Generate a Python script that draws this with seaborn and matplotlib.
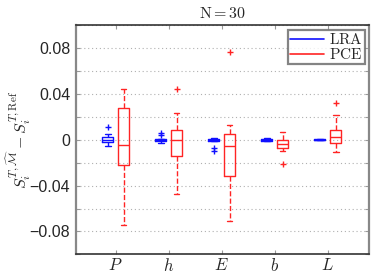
import numpy as np
import pandas as pd
import matplotlib
matplotlib.use("Agg")
import matplotlib.pyplot as plt
import seaborn as sns
from matplotlib.lines import Line2D
from matplotlib.ticker import MultipleLocator, FuncFormatter

# ---- data (sample values reconstructed from the box plots) ----
variables = ["P", "h", "E", "b", "L"]
methods = ["LRA", "PCE"]

lra_P = [-0.0055, -0.003, -0.002, -0.001, 0.0, 0.001, 0.0026, 0.0046, 0.011]
lra_h = [-0.003, -0.002, -0.001, -0.0005, 0.0, 0.0005, 0.001, 0.0045, 0.0055]
lra_E = [-0.010, -0.007, -0.0015, -0.001, 0.0, 0.0005, 0.001, 0.0012, 0.0015]
lra_b = [-0.0012, -0.001, -0.0008, -0.0004, 0.0, 0.0004, 0.0008, 0.001, 0.0012]
lra_L = [-0.0006, -0.0005, -0.0004, -0.0002, 0.0, 0.0002, 0.0004, 0.0005, 0.0006]

pce_P = [-0.0746, -0.04, -0.0218, -0.012, -0.005, 0.01, 0.0278, 0.035, 0.0438]
pce_h = [-0.047, -0.025, -0.0143, -0.006, 0.0, 0.004, 0.0087, 0.0235, 0.0445]
pce_E = [-0.0708, -0.05, -0.032, -0.015, -0.0058, 0.0, 0.0052, 0.013, 0.0762]
pce_b = [-0.021, -0.0099, -0.0076, -0.005, -0.0035, -0.002, -0.0006, 0.0066, 0.0066]
pce_L = [-0.011, -0.006, -0.0032, 0.0, 0.002, 0.005, 0.0084, 0.0214, 0.0316]

lra_vals = [lra_P, lra_h, lra_E, lra_b, lra_L]
pce_vals = [pce_P, pce_h, pce_E, pce_b, pce_L]

rows = []
for v, a, b in zip(variables, lra_vals, pce_vals):
    rows += [(v, "LRA", x) for x in a]
    rows += [(v, "PCE", x) for x in b]
df = pd.DataFrame(rows, columns=["var", "method", "value"])

blue = "#1010ff"
red = "#ff2424"

sns.set_style("white")
plt.rcParams["mathtext.fontset"] = "cm"
plt.rcParams["font.family"] = ["Liberation Sans", "DejaVu Sans"]

fig = plt.figure(figsize=(3.74, 2.75), dpi=100)
ax = fig.add_axes([0.203, 0.075, 0.784, 0.834])

ax.yaxis.set_major_locator(MultipleLocator(0.02))
ax.grid(True, axis="y", linestyle=(0, (1, 2.5)), color="#b0b0b0", linewidth=0.8)
ax.set_axisbelow(True)

sns.boxplot(data=df, x="var", y="value", hue="method", order=variables,
            hue_order=methods, palette={"LRA": blue, "PCE": red},
            fill=False, width=0.6, gap=0.3, linewidth=1.0,
            whiskerprops=dict(linestyle="--"),
            flierprops=dict(marker="+", markersize=4, markeredgewidth=1.0),
            legend=False, ax=ax)

ax.set_ylim(-0.1, 0.1)
ax.set_xlim(-0.75, 4.78)

def fmt(v, pos):
    r = round(v, 3)
    if abs(r) < 1e-9:
        return "0"
    if abs(round(r / 0.04) * 0.04 - r) > 1e-6:
        return ""
    return ("%.2f" % r).replace("-", "\u2212")

ax.yaxis.set_major_formatter(FuncFormatter(fmt))
ax.tick_params(axis="y", labelsize=11.5, direction="in", length=3, color="#999999",
               left=True, right=True, pad=4)
ax.tick_params(axis="x", labelsize=12, direction="in", length=3, color="#999999",
               bottom=True, top=True, pad=2)
ax.set_xticks(range(len(variables)))
ax.set_xticklabels(["$" + v + "$" for v in variables])

ax.set_xlabel("")
ax.set_ylabel(r"$S_i^{T,\widehat{\mathcal{M}}}-S_i^{T,\mathrm{Ref}}$", fontsize=11.5)
ax.yaxis.set_label_coords(-0.148, 0.5)
ax.set_title(r"$\mathrm{N{=}30}$", fontsize=11.5, pad=5)

for side in ["left", "right"]:
    ax.spines[side].set_color("#888888")
    ax.spines[side].set_linewidth(1.6)
for side in ["top", "bottom"]:
    ax.spines[side].set_color("#333333")
    ax.spines[side].set_linewidth(1.2)

handles = [Line2D([], [], color=blue, lw=1.2), Line2D([], [], color=red, lw=1.2)]
leg = ax.legend(handles, [r"$\mathrm{LRA}$", r"$\mathrm{PCE}$"], loc="upper right",
                fontsize=11, frameon=True, fancybox=False, borderpad=0.15,
                labelspacing=0.0, handlelength=2.2, handletextpad=0.3,
                borderaxespad=0.3)
leg.get_frame().set_edgecolor("#666666")
leg.get_frame().set_linewidth(1.6)

fig.savefig("out.png", dpi=100)
